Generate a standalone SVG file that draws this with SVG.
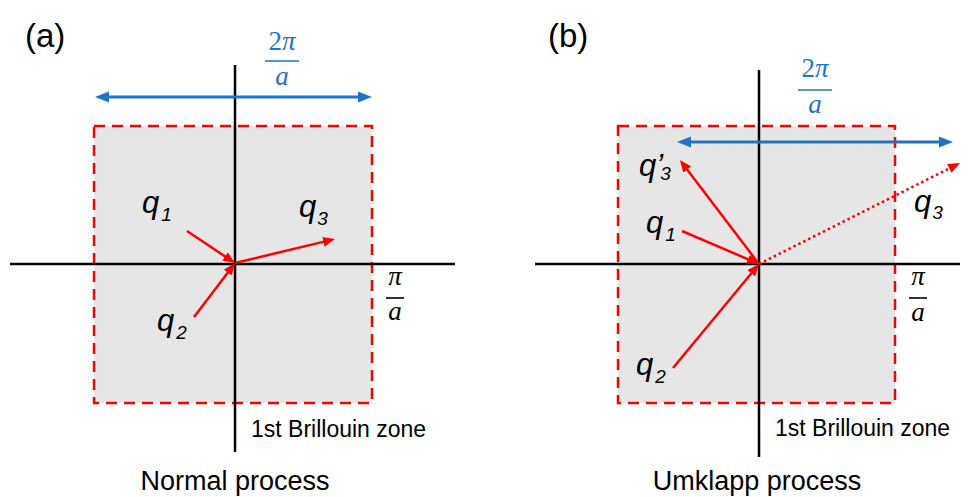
<svg xmlns="http://www.w3.org/2000/svg" width="968" height="497" viewBox="0 0 968 497">
<style>
.zone{fill:#e6e6e6;stroke:#ff0000;stroke-width:2.5;stroke-dasharray:11 7}
.axis{stroke:#000;stroke-width:2.5;fill:none}
.red{stroke:#ff0000;stroke-width:2.5;fill:none}
.dot{stroke:#ff0000;stroke-width:2.5;fill:none;stroke-dasharray:2.5 3}
.blue{stroke:#1f74c4;stroke-width:3;fill:none}
.q{font-family:"Liberation Sans",Arial,sans-serif;font-style:italic;font-size:31px;fill:#000}
.sub{font-size:19px}
.lbl{font-family:"Liberation Sans",Arial,sans-serif;fill:#000}
.math{font-family:"Liberation Serif","Times New Roman",serif;font-size:27px;text-anchor:middle}
.frac{stroke-width:1.6}
</style>
<defs>
<marker id="ar" markerUnits="userSpaceOnUse" markerWidth="13" markerHeight="11" refX="4" refY="5" orient="auto"><path d="M0,0 L12,5 L0,10 z" fill="#ff0000"/></marker>
<marker id="ab" markerUnits="userSpaceOnUse" markerWidth="15" markerHeight="12" refX="4" refY="5.5" orient="auto-start-reverse"><path d="M0,0 L14,5.5 L0,11 z" fill="#1f74c4"/></marker>
</defs>

<g id="panel-a">
<text class="lbl" x="25" y="47" font-size="33">(a)</text>
<g id="zone-a"><rect class="zone" x="94" y="126" width="278" height="277"/></g>
<g id="axes-a">
<line class="axis" x1="10" y1="264" x2="455" y2="264"/>
<line class="axis" x1="235" y1="65" x2="235" y2="452"/>
</g>
<g id="width-a">
<text class="math" fill="#1f74c4" x="282" y="50">2<tspan font-style="italic">π</tspan></text>
<line class="blue frac" x1="265" y1="61" x2="299" y2="61"/>
<text class="math" fill="#1f74c4" font-style="italic" x="282" y="85">a</text>
</g>
<g id="pia-a">
<text class="math" fill="#000" font-style="italic" x="395" y="285">π</text>
<line class="axis frac" x1="386" y1="298" x2="404" y2="298"/>
<text class="math" fill="#000" font-style="italic" x="395" y="320">a</text>
</g>
<g id="label-q1-a"><text class="q" x="142" y="213">q<tspan class="sub" dx="2" dy="8">1</tspan></text></g>
<g id="label-q2-a"><text class="q" x="157" y="331">q<tspan class="sub" dx="2" dy="8">2</tspan></text></g>
<g id="label-q3-a"><text class="q" x="299" y="217">q<tspan class="sub" dx="1" dy="8">3</tspan></text></g>
<text class="lbl" x="251" y="437" font-size="23">1st Brillouin zone</text>
<text class="lbl" x="235" y="490" font-size="27" text-anchor="middle">Normal process</text>
</g>

<g id="panel-b">
<text class="lbl" x="548" y="47" font-size="33">(b)</text>
<g id="zone-b"><rect class="zone" x="618" y="126" width="277" height="277"/></g>
<g id="axes-b">
<line class="axis" x1="535" y1="264" x2="960" y2="264"/>
<line class="axis" x1="759" y1="70" x2="759" y2="457"/>
</g>
<g id="width-b">
<text class="math" fill="#1f74c4" x="815" y="77">2<tspan font-style="italic">π</tspan></text>
<line class="blue frac" x1="798" y1="90" x2="832" y2="90"/>
<text class="math" fill="#1f74c4" font-style="italic" x="815" y="113">a</text>
</g>
<g id="pia-b">
<text class="math" fill="#000" font-style="italic" x="918" y="285">π</text>
<line class="axis frac" x1="909" y1="298" x2="927" y2="298"/>
<text class="math" fill="#000" font-style="italic" x="918" y="321">a</text>
</g>
<g id="label-q3p-b"><text class="q" x="639" y="176">q’<tspan class="sub" dx="-3" dy="4">3</tspan></text></g>
<g id="label-q1-b"><text class="q" x="646" y="233">q<tspan class="sub" dx="2" dy="8">1</tspan></text></g>
<g id="label-q2-b"><text class="q" x="636" y="375">q<tspan class="sub" dx="2" dy="8">2</tspan></text></g>
<g id="label-q3-b"><text class="q" x="914" y="212">q<tspan class="sub" dx="1" dy="7">3</tspan></text></g>
<text class="lbl" x="775" y="436" font-size="23">1st Brillouin zone</text>
<text class="lbl" x="757" y="490" font-size="27" text-anchor="middle">Umklapp process</text>
</g>

<g id="connectors">
<line class="blue" x1="105" y1="97" x2="362" y2="97" marker-start="url(#ab)" marker-end="url(#ab)"/>
<line class="red" x1="187" y1="231" x2="228.3" y2="258.6" marker-end="url(#ar)"/>
<line class="red" x1="194" y1="317" x2="230.2" y2="269.4" marker-end="url(#ar)"/>
<line class="red" x1="235" y1="263" x2="327.2" y2="240.9" marker-end="url(#ar)"/>
<line class="blue" x1="687" y1="142" x2="943" y2="142" marker-start="url(#ab)" marker-end="url(#ab)"/>
<line class="red" x1="759" y1="264" x2="684.8" y2="166.4" marker-end="url(#ar)"/>
<line class="red" x1="682" y1="231" x2="751.6" y2="260.8" marker-end="url(#ar)"/>
<line class="red" x1="673" y1="368" x2="753.9" y2="270.2" marker-end="url(#ar)"/>
<line class="dot" x1="759" y1="264" x2="952.9" y2="166.6" marker-end="url(#ar)"/>
</g>
</svg>
